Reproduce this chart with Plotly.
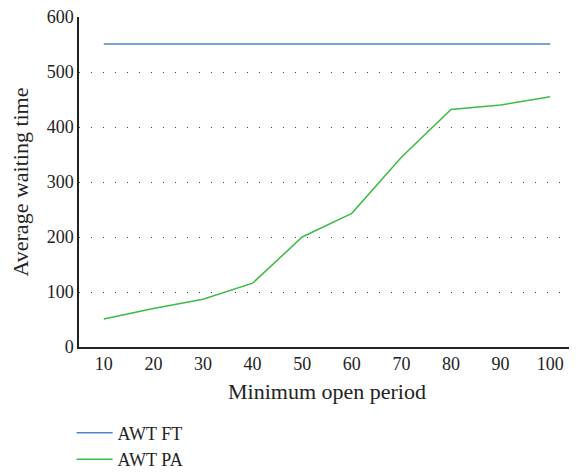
import plotly.graph_objects as go

periods = [10, 20, 30, 40, 50, 60, 70, 80, 90, 100]
awt_ft = [551, 551, 551, 551, 551, 551, 551, 551, 551, 551]
awt_pa = [51, 70, 87, 116, 200, 243, 345, 432, 440, 455]
yticks = [0, 100, 200, 300, 400, 500, 600]

cats = [str(p) for p in periods]
fig = go.Figure()
fig.add_trace(go.Scatter(x=cats, y=awt_ft, mode="lines", name="AWT FT",
                         line=dict(color="#4a86c5", width=1.5)))
fig.add_trace(go.Scatter(x=cats, y=awt_pa, mode="lines", name="AWT PA",
                         line=dict(color="#3dbb45", width=1.5)))

font = dict(family="Liberation Serif, DejaVu Serif, serif", size=18, color="#222")
fig.update_layout(
    width=569, height=464,
    margin=dict(l=71, r=2, t=9, b=125, autoexpand=False),
    plot_bgcolor="white", paper_bgcolor="white",
    font=font,
    showlegend=True,
    legend=dict(x=-0.015, y=-0.205, xanchor="left", yanchor="top",
                font=dict(size=18), tracegroupgap=0, itemwidth=36,
                bgcolor="rgba(0,0,0,0)"),
)
fig.update_xaxes(type="category", range=[-0.5, 9.5], showline=True, linecolor="#222",
                 linewidth=1.5, showgrid=False, ticks="", ticklen=0, automargin=False,
                 ticklabeloverflow="allow",
                 title=dict(text="Minimum open period", standoff=10))
fig.update_yaxes(range=[0, 600], tickvals=yticks, showline=True, linecolor="#222",
                 linewidth=1.5, showgrid=True, gridcolor="#444", gridwidth=1,
                 griddash="1px,11px", zeroline=False, ticks="", automargin=False,
                 ticklabeloverflow="allow",
                 title=dict(text="Average waiting time", standoff=15))
fig.write_html("out.html")
